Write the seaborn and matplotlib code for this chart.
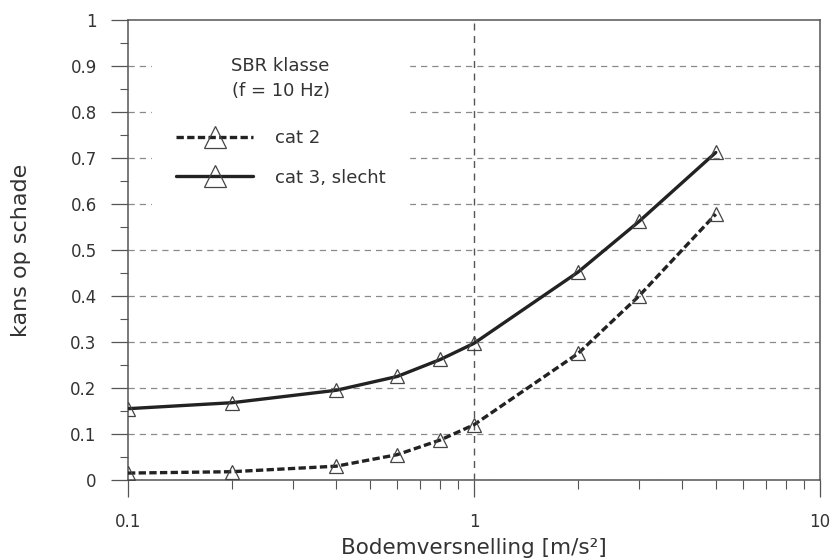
import matplotlib

matplotlib.use("Agg")

import matplotlib.pyplot as plt
import matplotlib.ticker as mticker
import pandas as pd
import seaborn as sns

# values
accel = [0.1, 0.2, 0.4, 0.6, 0.8, 1.0, 2.0, 3.0, 5.0]
cat2 = [0.015, 0.018, 0.030, 0.055, 0.087, 0.120, 0.275, 0.400, 0.578]
cat3 = [0.155, 0.168, 0.195, 0.225, 0.262, 0.297, 0.452, 0.562, 0.712]
series_names = ["cat 2", "cat 3, slecht"]
y_ticks = [0, 0.1, 0.2, 0.3, 0.4, 0.5, 0.6, 0.7, 0.8, 0.9, 1]
y_tick_labels = ["0", "0.1", "0.2", "0.3", "0.4", "0.5", "0.6", "0.7", "0.8", "0.9", "1"]
x_ticks = [0.1, 1, 10]
x_tick_labels = ["0.1", "1", "10"]

sns.set_theme(style="white")
plt.rcParams["font.family"] = ["DejaVu Sans"]

data = pd.concat(
    [
        pd.DataFrame({"accel": accel, "kans": cat2, "klasse": series_names[0]}),
        pd.DataFrame({"accel": accel, "kans": cat3, "klasse": series_names[1]}),
    ],
    ignore_index=True,
)

fig = plt.figure(figsize=(8.32, 5.6), dpi=100)
ax = fig.add_axes([0.1538, 0.1429, 0.8317, 0.8214])

ax.set_xscale("log")
sns.lineplot(
    data=data,
    x="accel",
    y="kans",
    hue="klasse",
    style="klasse",
    palette={series_names[0]: "#222222", series_names[1]: "#222222"},
    dashes={series_names[0]: (2.2, 1.0), series_names[1]: ""},
    markers={series_names[0]: "^", series_names[1]: "^"},
    markersize=10,
    markerfacecolor="none",
    markeredgecolor="#444444",
    markeredgewidth=0.9,
    linewidth=2.4,
    ax=ax,
    zorder=3,
)

ax.set_xlim(0.1, 10)
ax.set_ylim(0, 1)

# grid: horizontal dashed lines, one vertical at 1
for yv in y_ticks[:-1]:
    ax.axhline(yv, color="#8a8a8a", linestyle=(0, (5, 4)), linewidth=0.9, zorder=1)
ax.axvline(1, color="#555555", linestyle=(0, (5, 4)), linewidth=1.0, zorder=1)

ax.set_yticks(y_ticks)
ax.set_yticklabels(y_tick_labels)
ax.yaxis.set_minor_locator(mticker.MultipleLocator(0.05))
ax.xaxis.set_major_locator(mticker.FixedLocator(x_ticks))
ax.xaxis.set_major_formatter(mticker.FixedFormatter(x_tick_labels))
ax.xaxis.set_minor_locator(mticker.LogLocator(base=10, subs=range(2, 10)))
ax.xaxis.set_minor_formatter(mticker.NullFormatter())

ax.tick_params(axis="both", which="both", bottom=True, left=True, top=False, right=False)
ax.tick_params(axis="both", which="major", direction="out", length=12.5,
               width=0.9, color="#555555", labelsize=12, labelcolor="#333333")
ax.tick_params(axis="x", which="major", pad=11)
ax.tick_params(axis="y", which="major", pad=10)
ax.tick_params(axis="x", which="minor", direction="out", length=6.5, width=0.8, color="#555555")
ax.tick_params(axis="y", which="minor", direction="out", length=5.5, width=0.8, color="#555555")

for spine in ax.spines.values():
    spine.set_color("#555555")
    spine.set_linewidth(1.1)

ax.set_xlabel("Bodemversnelling [m/s²]", fontsize=15.5, color="#333333", labelpad=5)
ax.set_ylabel("kans op schade", fontsize=16, color="#333333", labelpad=28)

handles, labels = ax.get_legend_handles_labels()
leg = ax.legend(
    handles,
    labels,
    title="SBR klasse\n(f = 10 Hz)",
    loc="upper left",
    bbox_to_anchor=(0.022, 0.991),
    frameon=True,
    facecolor="white",
    edgecolor="white",
    framealpha=1,
    fancybox=False,
    fontsize=13,
    title_fontsize=13,
    handlelength=4.3,
    handletextpad=1.2,
    labelspacing=1.17,
    borderpad=1.3,
)
# a bit more room between the title and the entries than between entries
leg._legend_box.sep = 21
leg.get_title().set_color("#333333")
leg.get_title().set_linespacing(1.55)
leg.get_title().set_multialignment("center")
for text in leg.get_texts():
    text.set_color("#333333")
for handle in leg.legend_handles:
    handle.set_markersize(16)
leg.set_zorder(2)

fig.savefig("out.png", dpi=100)
